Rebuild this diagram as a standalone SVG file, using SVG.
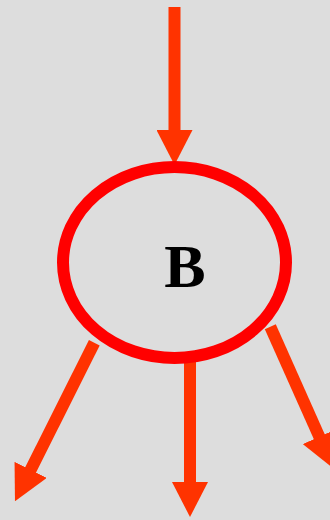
<svg xmlns="http://www.w3.org/2000/svg" width="330" height="520" viewBox="0 0 330 520">
<style>
.edge{stroke:#ff3300;stroke-width:12;fill:none;marker-end:url(#ah)}
.node{fill:none;stroke:#ff0000;stroke-width:12}
.lbl{font-family:"Liberation Serif","Times New Roman",serif;font-weight:bold;font-size:62px;fill:#000}
</style>
<defs>
<marker id="ah" viewBox="0 0 35 36" refX="1" refY="18" markerWidth="35" markerHeight="36" markerUnits="userSpaceOnUse" orient="auto">
<path d="M0,0 L35,18 L0,36 Z" fill="#ff3300"/>
</marker>
</defs>
<rect width="330" height="520" fill="#dddddd"/>
<g id="connectors">
<line class="edge" x1="174.5" y1="7" x2="174.5" y2="131"/>
<line class="edge" x1="94.3" y1="342.8" x2="30.2" y2="470.8"/>
<line class="edge" x1="190" y1="359" x2="190" y2="483"/>
<line class="edge" x1="270.3" y1="326.8" x2="319.7" y2="437.6"/>
</g>
<g id="node-B">
<ellipse class="node" cx="174.5" cy="262.5" rx="111.5" ry="95.5"/>
<text class="lbl" x="185" y="287" text-anchor="middle">B</text>
</g>
</svg>
